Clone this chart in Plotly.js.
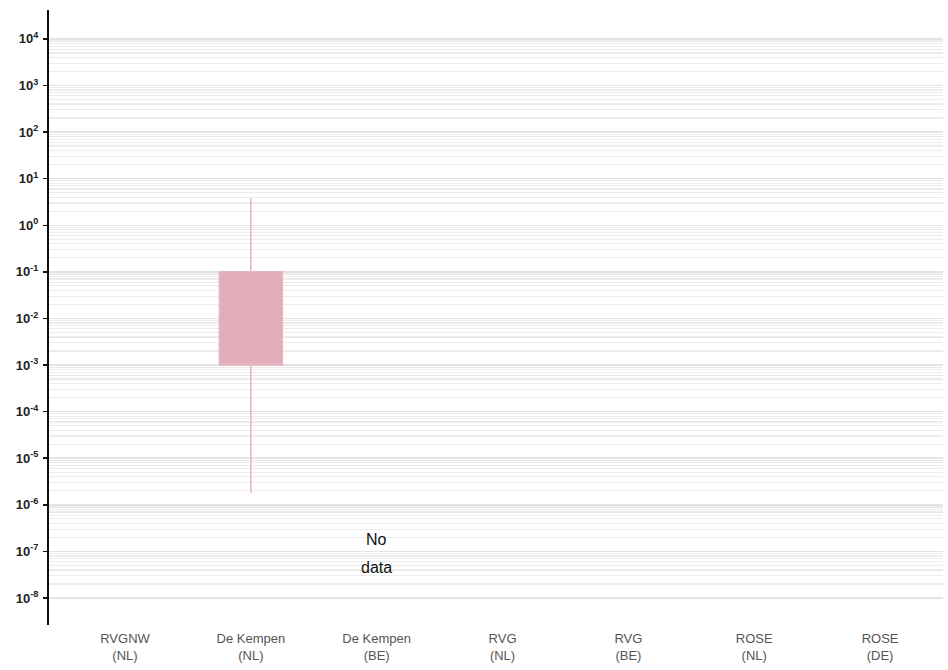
<!DOCTYPE html>
<html>
<head>
<meta charset="utf-8">
<script src="https://cdn.plot.ly/plotly-3.0.1.min.js"></script>
<style>html,body{margin:0;padding:0;background:#fff;}#chart{width:948px;height:670px;}</style>
</head>
<body>
<div id="chart"></div>
<script>
const categories = ["RVGNW<br>(NL)", "De Kempen<br>(NL)", "De Kempen<br>(BE)", "RVG<br>(NL)", "RVG<br>(BE)", "ROSE<br>(NL)", "ROSE<br>(DE)"];
const yTickVals = [1e-8, 1e-7, 1e-6, 1e-5, 1e-4, 1e-3, 1e-2, 1e-1, 1e0, 1e1, 1e2, 1e3, 1e4];
const yTickText = ["10<sup>-8</sup>", "10<sup>-7</sup>", "10<sup>-6</sup>", "10<sup>-5</sup>", "10<sup>-4</sup>", "10<sup>-3</sup>", "10<sup>-2</sup>", "10<sup>-1</sup>", "10<sup>0</sup>", "10<sup>1</sup>", "10<sup>2</sup>", "10<sup>3</sup>", "10<sup>4</sup>"];
const boxCategory = ["De Kempen<br>(NL)"];
const boxQ1 = [0.001];
const boxMedian = [0.001];
const boxQ3 = [0.1];
const boxLower = [1.8e-6];
const boxUpper = [3.8];
const noDataCategory = "De Kempen<br>(BE)";
const noDataLines = ["No", "data"];
const noDataY = [-6.75, -7.35];

// minor grid positions (2..9 within each decade between the first and last major tick)
const minorVals = [];
for (let e = -8; e < 4; e++) {
  for (let d = 2; d <= 9; d++) minorVals.push(d * Math.pow(10, e));
}

const traces = [{
  type: 'box',
  x: boxCategory,
  q1: boxQ1,
  median: boxMedian,
  q3: boxQ3,
  lowerfence: boxLower,
  upperfence: boxUpper,
  width: 0.5,
  whiskerwidth: 0,
  fillcolor: '#e0adb8',
  line: {color: '#e6b3c0', width: 1.5},
  hoverinfo: 'skip',
  showlegend: false
}];

const layout = {
  width: 948, height: 670,
  margin: {l: 49, r: 5, t: 10, b: 45},
  paper_bgcolor: '#fff', plot_bgcolor: '#fff',
  font: {family: 'Liberation Sans, Arial, sans-serif'},
  xaxis: {
    type: 'category',
    categoryorder: 'array',
    categoryarray: categories,
    range: [-0.604, 6.5],
    showgrid: false, zeroline: false, showline: false,
    ticks: '',
    ticklabelstandoff: 4,
    tickfont: {size: 13, color: '#555'},
    fixedrange: true
  },
  yaxis: {
    type: 'log',
    range: [-8.58, 4.62],
    tickmode: 'array',
    tickvals: yTickVals,
    ticktext: yTickText,
    showgrid: true, gridcolor: '#e4e4e4', gridwidth: 1.5,
    minor: {tickmode: 'array', tickvals: minorVals, showgrid: true, gridcolor: '#ececec', gridwidth: 1.2, ticks: ''},
    zeroline: false,
    showline: true, linecolor: '#111', linewidth: 2,
    ticks: 'outside', ticklen: 4, tickwidth: 1.5, tickcolor: '#111',
    ticklabelstandoff: 2,
    tickfont: {size: 13, color: '#222', weight: 'bold'},
    fixedrange: true
  },
  annotations: noDataLines.map((t, i) => ({
    x: noDataCategory, y: noDataY[i], xref: 'x', yref: 'y',
    text: t, showarrow: false,
    font: {size: 16, color: '#111'}
  }))
};

Plotly.newPlot('chart', traces, layout, {displayModeBar: false, staticPlot: true});
</script>
</body>
</html>
